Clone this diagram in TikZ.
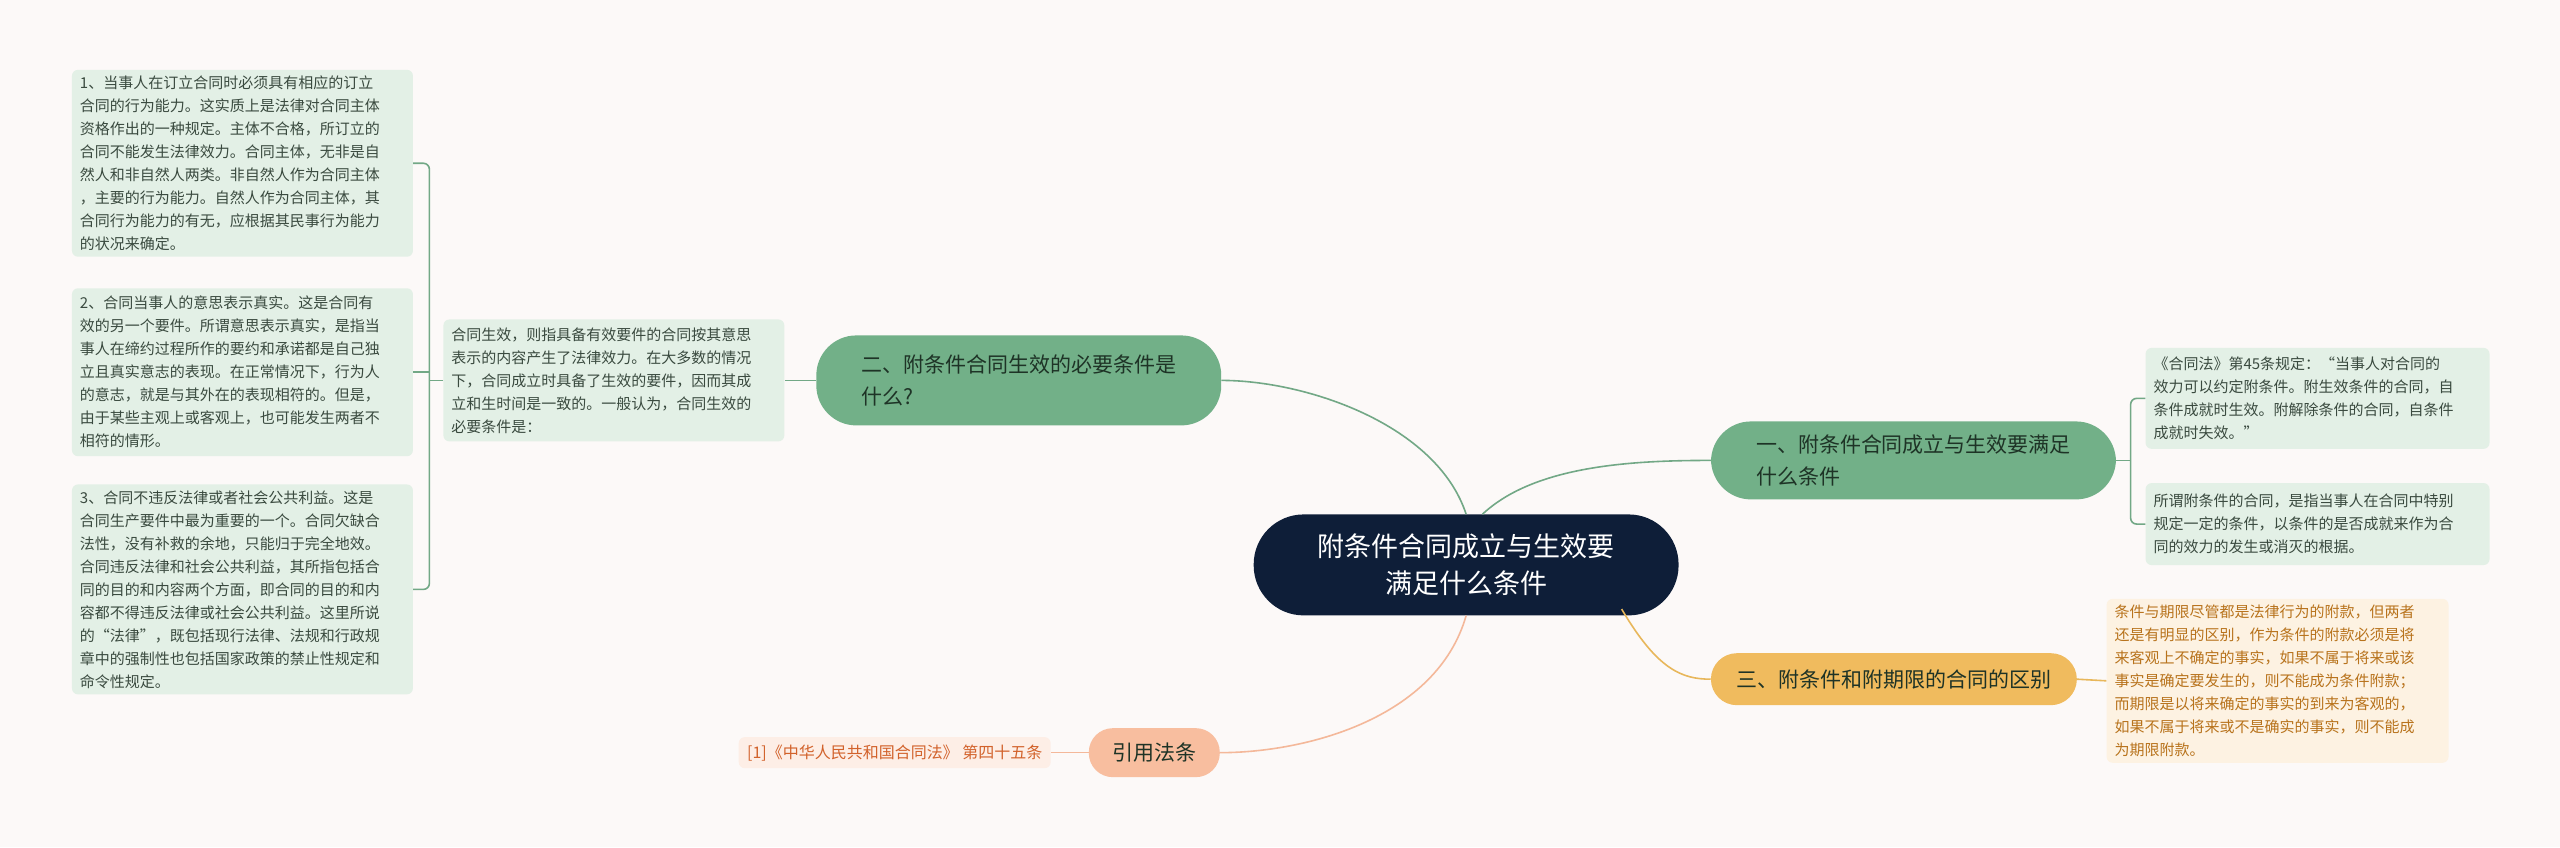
\documentclass[tikz,border=0pt]{standalone}
\usepackage{fontspec}
\setmainfont{Noto Sans CJK SC}
\begin{document}
\begin{tikzpicture}[x=1.633pt,y=-1.633pt,
  leaf/.style={fill=leafbg,text=leaftx,rounded corners=6pt,align=left,inner xsep=8pt,inner ysep=6pt,font=\fontsize{15}{23}\selectfont,anchor=center},
  br/.style={draw=gline,line width=1.6pt},
  gbranch/.style={fill=gfill,text=gtext,rounded corners=40pt,align=left,font=\fontsize{21}{32}\selectfont,inner xsep=22pt},
]
\definecolor{bg}{HTML}{FCF9F8}
\definecolor{leafbg}{HTML}{E3F0E6}
\definecolor{leaftx}{HTML}{3A4A3F}
\definecolor{gfill}{HTML}{72B088}
\definecolor{gtext}{HTML}{1E3326}
\definecolor{gline}{HTML}{72A886}
\definecolor{navy}{HTML}{0E1E38}
\definecolor{ofill}{HTML}{F0BB5E}
\definecolor{oline}{HTML}{E8B75B}
\definecolor{obg}{HTML}{FDF2E2}
\definecolor{otx}{HTML}{B8731C}
\definecolor{pfill}{HTML}{F8BE9F}
\definecolor{pline}{HTML}{F4B89A}
\definecolor{pbg}{HTML}{FDEEE6}
\definecolor{ptx}{HTML}{D2622B}
\fill[bg] (0,0) rectangle (1568,519);
\useasboundingbox (0,0) rectangle (1568,519);

\node[fill=navy,text=white,rounded corners=50pt,minimum width=425pt,minimum height=101pt,align=center,font=\fontsize{27}{37}\selectfont] (c) at (898,346) {附条件合同成立与生效要\\满足什么条件};

\node[gbranch,minimum width=405pt,minimum height=90pt] (b2) at (624,233) {二、附条件合同生效的必要条件是\\什么?};
\node[gbranch,minimum width=405pt,minimum height=78pt] (b1) at (1172,282) {一、附条件合同成立与生效要满足\\什么条件};
\node[fill=ofill,text=gtext,rounded corners=26pt,minimum width=366pt,minimum height=52pt,font=\fontsize{21}{32}\selectfont] (b3) at (1160,416) {三、附条件和附期限的合同的区别};
\node[fill=pfill,text=gtext,rounded corners=24pt,minimum width=131pt,minimum height=49pt,font=\fontsize{21}{32}\selectfont] (b4) at (707,461) {引用法条};

\draw[gline,line width=1.6pt] (c.north) .. controls (880,260) and (800,233) .. (b2.east);
\draw[gline,line width=1.6pt] (c.north) ++(10,0) .. controls (940,285) and (1000,282) .. (b1.west);
\draw[oline,line width=1.6pt] (c.south east) ++(-35,-4) .. controls (1015,410) and (1030,416) .. (b3.west);
\draw[pline,line width=1.6pt] (c.south) .. controls (880,440) and (800,461) .. (b4.east);

\node[leaf,text width=325pt,minimum height=122pt] (lt) at (376,233) {合同生效，则指具备有效要件的合同按其意思\\表示的内容产生了法律效力。在大多数的情况\\下，合同成立时具备了生效的要件，因而其成\\立和生时间是一致的。一般认为，合同生效的\\必要条件是：};
\draw[br] (b2.west) -- (lt.east);

\node[leaf,text width=325pt,minimum height=186pt] (l1) at (148.5,100) {1、当事人在订立合同时必须具有相应的订立\\合同的行为能力。这实质上是法律对合同主体\\资格作出的一种规定。主体不合格，所订立的\\合同不能发生法律效力。合同主体，无非是自\\然人和非自然人两类。非自然人作为合同主体\\，主要的行为能力。自然人作为合同主体，其\\合同行为能力的有无，应根据其民事行为能力\\的状况来确定。};
\node[leaf,text width=325pt,minimum height=168pt] (l2) at (148.5,228) {2、合同当事人的意思表示真实。这是合同有\\效的另一个要件。所谓意思表示真实，是指当\\事人在缔约过程所作的要约和承诺都是自己独\\立且真实意志的表现。在正常情况下，行为人\\的意志，就是与其外在的表现相符的。但是，\\由于某些主观上或客观上，也可能发生两者不\\相符的情形。};
\node[leaf,text width=325pt,minimum height=206pt] (l3) at (148.5,361) {3、合同不违反法律或者社会公共利益。这是\\合同生产要件中最为重要的一个。合同欠缺合\\法性，没有补救的余地，只能归于完全地效。\\合同违反法律和社会公共利益，其所指包括合\\同的目的和内容两个方面，即合同的目的和内\\容都不得违反法律或社会公共利益。这里所说\\的“法律”，既包括现行法律、法规和行政规\\章中的强制性也包括国家政策的禁止性规定和\\命令性规定。};
\coordinate (lb) at (263,233);
\draw[br] (lt.west) -- (lb);
\draw[br,rounded corners=6pt] (l1.east) -| (lb) |- (l3.east);
\draw[br] (lb) |- (l2.east);

\node[leaf,text width=328pt,minimum height=101pt] (r1) at (1419.5,244) {《合同法》第45条规定：“当事人对合同的\\效力可以约定附条件。附生效条件的合同，自\\条件成就时生效。附解除条件的合同，自条件\\成就时失效。”};
\node[leaf,text width=328pt,minimum height=82pt] (r2) at (1419.5,321) {所谓附条件的合同，是指当事人在合同中特别\\规定一定的条件，以条件的是否成就来作为合\\同的效力的发生或消灭的根据。};
\coordinate (rb) at (1305,282);
\draw[br] (b1.east) -- (rb);
\draw[br,rounded corners=6pt] (r1.west) -| (rb) |- (r2.west);

\node[leaf,fill=obg,text=otx,text width=326pt,minimum height=163pt] (o1) at (1395,417) {条件与期限尽管都是法律行为的附款，但两者\\还是有明显的区别，作为条件的附款必须是将\\来客观上不确定的事实，如果不属于将来或该\\事实是确定要发生的，则不能成为条件附款；\\而期限是以将来确定的事实的到来为客观的，\\如果不属于将来或不是确实的事实，则不能成\\为期限附款。};
\draw[oline,line width=1.6pt] (b3.east) -- (o1.west);

\node[fill=pbg,text=ptx,rounded corners=6pt,minimum width=312pt,minimum height=31pt,font=\fontsize{16}{20}\selectfont] (p1) at (548,461) {[1]《中华人民共和国合同法》 第四十五条};
\draw[pline,line width=1.6pt] (b4.west) -- (p1.east);
\end{tikzpicture}
\end{document}
